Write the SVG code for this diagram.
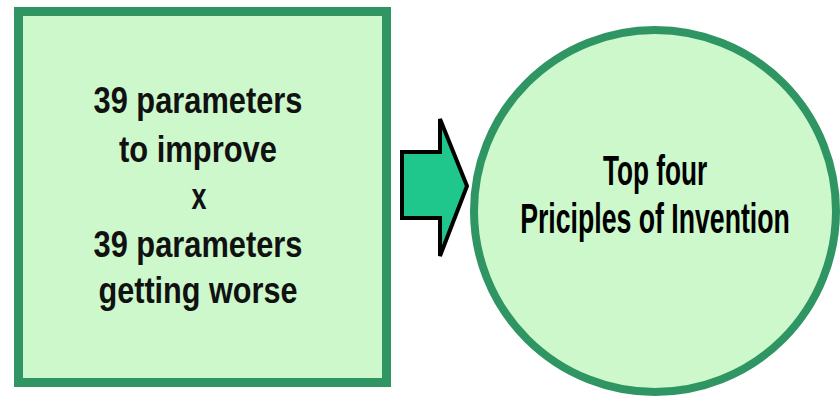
<svg xmlns="http://www.w3.org/2000/svg" width="840" height="403" viewBox="0 0 840 403">
<style>
.node{fill:#ccf8cb;stroke:#2f9563}
.t1{font-family:"Liberation Sans",Arial,sans-serif;font-weight:bold;font-size:36px;fill:#111;text-anchor:middle}
.t2{font-family:"Liberation Sans",Arial,sans-serif;font-weight:bold;font-size:43px;fill:#000;text-anchor:middle}
</style>
<rect width="840" height="403" fill="#fff"/>
<g id="box">
<rect class="node" x="18.5" y="11.5" width="368" height="371" stroke-width="9"/>
<text class="t1" x="198" y="113" textLength="209" lengthAdjust="spacingAndGlyphs">39 parameters</text>
<text class="t1" x="198" y="162" textLength="158" lengthAdjust="spacingAndGlyphs">to improve</text>
<text class="t1" x="199" y="209" textLength="15" lengthAdjust="spacingAndGlyphs">x</text>
<text class="t1" x="198" y="257" textLength="209" lengthAdjust="spacingAndGlyphs">39 parameters</text>
<text class="t1" x="198" y="303" textLength="199" lengthAdjust="spacingAndGlyphs">getting worse</text>
</g>
<g id="connectors">
<path d="M402,152 H440 V119 L467,186 L440,256 V218 H402 Z" fill="#1fc78d" stroke="#000" stroke-width="4" stroke-linejoin="miter"/>
</g>
<g id="circle">
<circle class="node" cx="655" cy="211" r="181" stroke-width="8"/>
<g transform="translate(655,0) scale(0.62,1)">
<text class="t2" x="0" y="185" textLength="168" lengthAdjust="spacingAndGlyphs">Top four</text>
<text class="t2" x="0" y="233" textLength="435" lengthAdjust="spacingAndGlyphs">Priciples of Invention</text>
</g>
</g>
</svg>
